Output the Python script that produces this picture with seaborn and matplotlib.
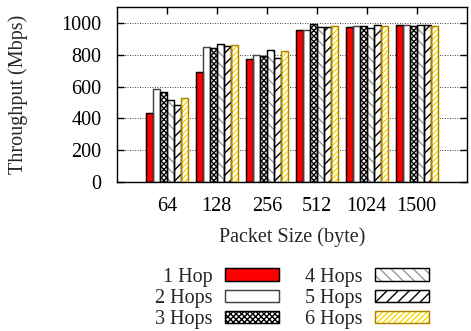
import pandas as pd
import seaborn as sns
import matplotlib.pyplot as plt
from matplotlib.patches import Rectangle, Patch
from matplotlib.legend_handler import HandlerTuple

sizes = ['64', '128', '256', '512', '1024', '1500']
hops = ['1 Hop', '2 Hops', '3 Hops', '4 Hops', '5 Hops', '6 Hops']
hop1 = [436, 693, 770, 956, 975, 987]
hop2 = [587, 848, 800, 958, 981, 987]
hop3 = [568, 843, 789, 996, 981, 983]
hop4 = [518, 868, 831, 977, 969, 987]
hop5 = [486, 852, 781, 973, 987, 987]
hop6 = [528, 864, 825, 981, 981, 979]

rows = []
for h, vals in zip(hops, [hop1, hop2, hop3, hop4, hop5, hop6]):
    for s, v in zip(sizes, vals):
        rows.append({'size': s, 'hops': h, 'tput': v})
df = pd.DataFrame(rows)

# face, hatch, hatch colour, outline
styles = [('#ff0000', '', 'black', 'black'),
          ('white', '', '#666666', '#444444'),
          ('white', 'xxxxxx', 'black', 'black'),
          ('white', '\\\\\\', '#999999', 'black'),
          ('white', '///', 'black', 'black'),
          ('white', '//////', '#ffd700', '#a88400')]

sns.set_theme(style='ticks')
plt.rcParams['font.family'] = ['Liberation Serif', 'DejaVu Serif']
plt.rcParams['font.size'] = 14.5
plt.rcParams['hatch.linewidth'] = 1.0

fig = plt.figure(figsize=(4.71, 3.31), dpi=100)
ax = fig.add_axes([0.248, 0.450, 0.743, 0.529])
sns.barplot(data=df, x='size', y='tput', hue='hops', order=sizes, hue_order=hops,
            width=0.84, gap=0, errorbar=None, saturation=1, legend=False,
            palette=['white'] * 6, ax=ax)

for cont, (fc, hatch, hc, ec) in zip(ax.containers, styles):
    for bar in cont:
        bar.set_facecolor(fc)
        bar.set_hatch(hatch)
        bar.set_edgecolor(hc)
        bar.set_linewidth(0.8)
        ax.add_patch(Rectangle(bar.get_xy(), bar.get_width(), bar.get_height(),
                               fill=False, edgecolor=ec, linewidth=1.0, zorder=3))

ax.set_xlim(-1, 6)
ax.set_ylim(0, 1100)
ax.set_yticks([0, 200, 400, 600, 800, 1000])
ax.yaxis.grid(True, linestyle=(0, (1, 2)), color='black', linewidth=0.6)
ax.set_axisbelow(True)
ax.tick_params(direction='in', top=True, right=True, length=5, width=1,
               labelsize=14.5, colors='black')
ax.tick_params(axis='y', pad=11)
ax.tick_params(axis='x', pad=11)
for sp in ax.spines.values():
    sp.set_linewidth(1)
    sp.set_color('black')
ax.set_xlabel('Packet Size (byte)', fontsize=14.5, labelpad=8)
ax.set_ylabel('Throughput (Mbps)', fontsize=14.5, labelpad=24)

handles = []
for fc, hatch, hc, ec in styles:
    handles.append((Patch(facecolor=fc, hatch=hatch, edgecolor=hc, linewidth=0.8),
                    Patch(fill=False, edgecolor=ec, linewidth=1.0)))
leg = fig.legend(handles, hops, ncol=2, loc='upper center',
                 bbox_to_anchor=(0.62, 0.222), frameon=False, markerfirst=False,
                 handlelength=2.7, handleheight=0.55, handletextpad=0.6,
                 columnspacing=1.3, labelspacing=0.12, fontsize=14.5, borderpad=0,
                 handler_map={tuple: HandlerTuple(ndivide=1, pad=0)})
fig.savefig('out.png', dpi=100)
